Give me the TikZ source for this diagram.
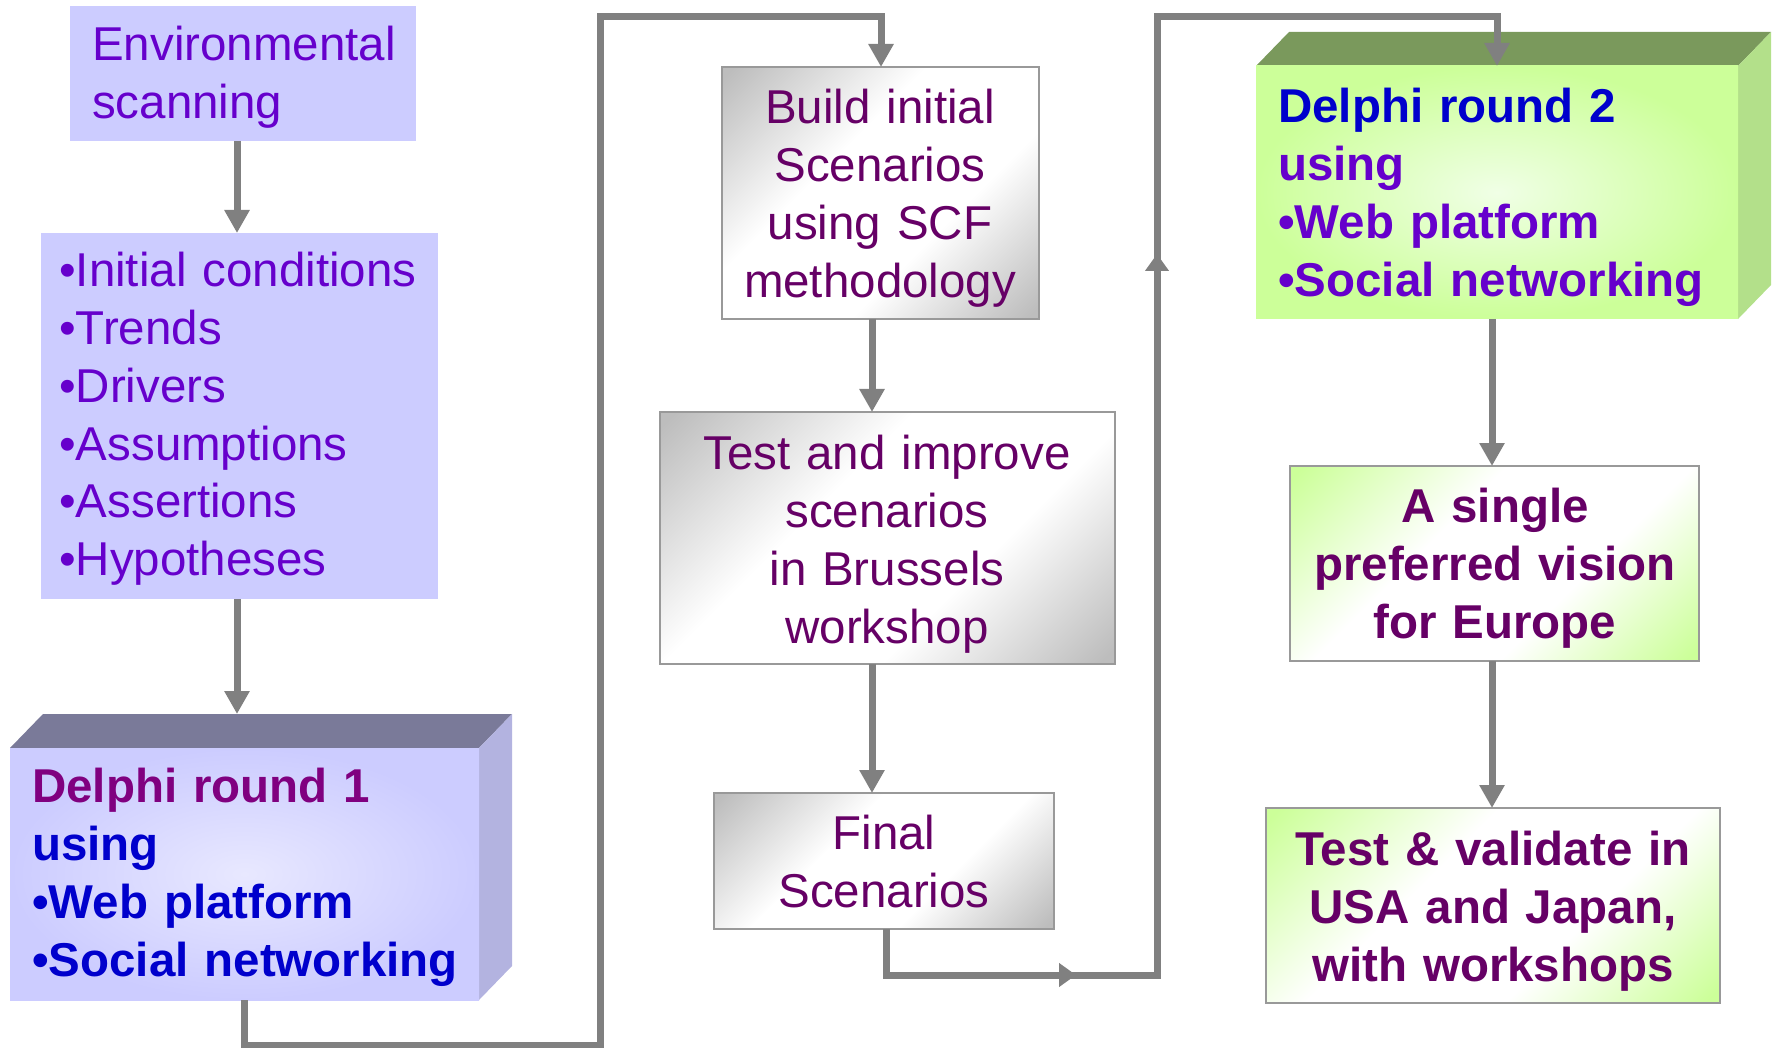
\documentclass[tikz,border=0pt]{standalone}
\usepackage{fontspec}
\setmainfont{Liberation Sans}
\usetikzlibrary{arrows.meta,shadings}
\setlength{\parindent}{0pt}
\definecolor{lav}{HTML}{CCCCFF}
\definecolor{lavlight}{HTML}{E8E8FF}
\definecolor{txtpurple}{HTML}{6600CC}
\definecolor{txtplum}{HTML}{660066}
\definecolor{txtmag}{HTML}{800080}
\definecolor{txtblue}{HTML}{0000CC}
\definecolor{linegray}{HTML}{808080}
\definecolor{boxgray}{HTML}{BDBDBD}
\definecolor{greenbox}{HTML}{CCFF99}
\definecolor{greenlight}{HTML}{F0FFE6}
\definecolor{dOnetop}{HTML}{7A7A99}
\definecolor{dOneside}{HTML}{B3B3E0}
\definecolor{dTwotop}{HTML}{7A995C}
\definecolor{dTwoside}{HTML}{B3E08A}
\definecolor{bordergray}{HTML}{999999}
\pgfdeclarehorizontalshading{grayband}{100bp}{color(0bp)=(boxgray); color(16bp)=(boxgray); color(40bp)=(white); color(62bp)=(white); color(84bp)=(boxgray); color(100bp)=(boxgray)}
\pgfdeclarehorizontalshading{greenband}{100bp}{color(0bp)=(greenbox); color(16bp)=(greenbox); color(40bp)=(white); color(62bp)=(white); color(84bp)=(greenbox); color(100bp)=(greenbox)}
\newcommand{\bigtxt}{\fontsize{47.5}{57.7}\selectfont}
\begin{document}
\begin{tikzpicture}[x=1pt,y=-1pt,
  box/.style={anchor=north west,inner sep=0pt,outer sep=0pt},
  lavbox/.style={box,fill=lav},
  graybox/.style={box,draw=bordergray,line width=1.5pt,shade,shading=grayband,shading angle=-45},
  greenbox2/.style={box,draw=bordergray,line width=1.5pt,shade,shading=greenband,shading angle=-45},
  txtl/.style={anchor=north west,inner sep=0pt,text width=600pt,align=left,font=\bigtxt},
  txtc/.style={anchor=north,inner sep=0pt,text width=600pt,align=center,font=\bigtxt},
  conn/.style={draw=linegray,line width=7pt,line join=miter,-{Triangle[width=24pt,length=23pt]}},
  midtip/.style={draw=linegray,line width=7pt,-{Triangle[width=23pt,length=17pt]}}
]
\useasboundingbox (0,0) rectangle (1775,1048);

% ---------- boxes ----------
\node[lavbox,minimum width=346pt,minimum height=135pt] (env) at (70,6) {};
\node[lavbox,minimum width=397pt,minimum height=366pt] (list) at (41,233) {};

% Delphi round 1 (3D)
\fill[dOnetop] (10,748) -- (43,714) -- (512,714) -- (479,748) -- cycle;
\fill[dOneside] (479,748) -- (512,714) -- (512,966) -- (479,1000) -- cycle;
\node[box,minimum width=469pt,minimum height=252pt,inner color=lavlight,outer color=lav] (d1) at (10,748) {};

\node[graybox,minimum width=317pt,minimum height=252pt] (build) at (722,67) {};
\node[graybox,minimum width=455pt,minimum height=252pt] (test) at (660,412) {};
\node[graybox,minimum width=340pt,minimum height=136pt] (final) at (714,793) {};

% Delphi round 2 (3D)
\fill[dTwotop] (1256,66) -- (1289,32) -- (1771,32) -- (1738,66) -- cycle;
\fill[dTwoside] (1738,66) -- (1771,32) -- (1771,285) -- (1738,319) -- cycle;
\node[box,minimum width=482pt,minimum height=253pt,inner color=greenlight,outer color=greenbox] (d2) at (1256,66) {};

\node[greenbox2,minimum width=409pt,minimum height=195pt] (single) at (1290,466) {};
\node[greenbox2,minimum width=454pt,minimum height=195pt] (valid) at (1266,808) {};

% ---------- texts ----------
\node[txtl,text=txtpurple] (envt) at (92,20.4) {\strut Environmental\\scanning};
\node[txtl,text=txtpurple] (listt) at (59,246.4) {\strut •Initial conditions\\•Trends\\•Drivers\\•Assumptions\\•Assertions\\•Hypotheses};
\node[txtl,font=\bigtxt\bfseries] (d1t) at (32,762.4) {\strut\textcolor{txtmag}{Delphi round 1}\\\textcolor{txtblue}{using}\\\textcolor{txtblue}{•Web platform}\\\textcolor{txtblue}{•Social networking}};
\node[txtc,text=txtplum] (buildt) at (880,83.4) {\strut Build initial\\Scenarios\\using SCF\\methodology};
\node[txtc,text=txtplum] (testt) at (887,429.4) {\strut Test and improve\\scenarios\\in Brussels\\workshop};
\node[txtc,text=txtplum] (finalt) at (884,809.4) {\strut Final\\Scenarios};
\node[txtl,font=\bigtxt\bfseries] (d2t) at (1278,82.4) {\strut\textcolor{txtblue}{Delphi round 2}\\\textcolor{txtpurple}{using}\\\textcolor{txtpurple}{•Web platform}\\\textcolor{txtpurple}{•Social networking}};
\node[txtc,text=txtplum,font=\bigtxt\bfseries] (singlet) at (1495,482.4) {\strut A single\\preferred vision\\for Europe};
\node[txtc,text=txtplum,font=\bigtxt\bfseries] (validt) at (1493,825.4) {\strut Test \& validate in\\USA and Japan,\\with workshops};

% ---------- connector coordinates ----------
\coordinate (a1) at (237,0);
\coordinate (d1top) at (237,714);
\coordinate (p1) at (244,1045);
\coordinate (p2) at (600,17);
\coordinate (p3) at (881,17);
\coordinate (a2) at (872,0);
\coordinate (q0) at (886,0);
\coordinate (q1) at (886,975);
\coordinate (q2) at (1157,17);
\coordinate (q3) at (1497,17);
\coordinate (a3) at (1492,0);
\coordinate (m1) at (1076,975);
\coordinate (m2) at (1157,254);

% ---------- connectors ----------
\draw[conn] (env.south -| a1) -- (list.north -| a1);
\draw[conn] (list.south -| a1) -- (d1top);
\draw[conn] (d1.south -| p1) -- (p1) -| (p2) -- (p3) -- (build.north -| p3);
\draw[conn] (build.south -| a2) -- (test.north -| a2);
\draw[conn] (test.south -| a2) -- (final.north -| a2);
\draw[conn] (final.south -| q0) -- (q1) -| (q2) -- (q3) -- (d2.north -| q3);
\draw[midtip] ([xshift=-30pt]m1) -- (m1);
\draw[midtip] ([yshift=-30pt]m2) -- (m2);
\draw[conn] (d2.south -| a3) -- (single.north -| a3);
\draw[conn] (single.south -| a3) -- (valid.north -| a3);
\end{tikzpicture}
\end{document}
